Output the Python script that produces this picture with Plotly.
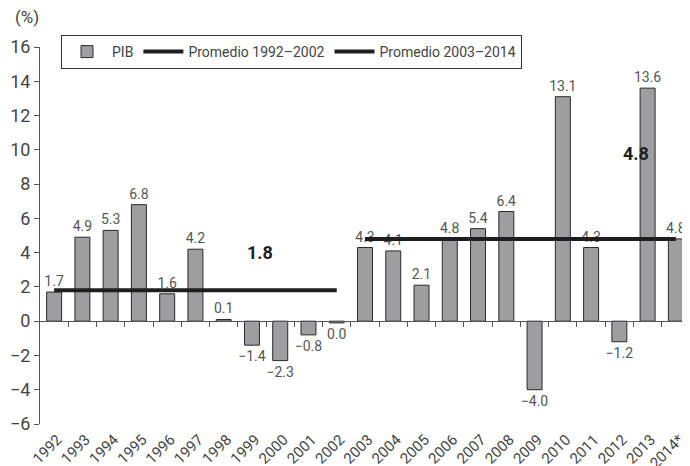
import plotly.graph_objects as go

years = ["1992", "1993", "1994", "1995", "1996", "1997", "1998", "1999", "2000", "2001",
         "2002", "2003", "2004", "2005", "2006", "2007", "2008", "2009", "2010", "2011",
         "2012", "2013", "2014*"]
pib = [1.7, 4.9, 5.3, 6.8, 1.6, 4.2, 0.1, -1.4, -2.3, -0.8,
       -0.1, 4.3, 4.1, 2.1, 4.8, 5.4, 6.4, -4.0, 13.1, 4.3,
       -1.2, 13.6, 4.8]
pib_labels = ["1.7", "4.9", "5.3", "6.8", "1.6", "4.2", "0.1", "−1.4", "−2.3", "−0.8",
              "0.0", "4.3", "4.1", "2.1", "4.8", "5.4", "6.4", "−4.0", "13.1", "4.3",
              "−1.2", "13.6", "4.8"]
avg1_name = "Promedio 1992–2002"
avg1_value = 1.8
avg1_span = ("1992", "2002")
avg2_name = "Promedio 2003–2014"
avg2_value = 4.8
avg2_span = ("2003", "2014*")
y_ticks = [-6, -4, -2, 0, 2, 4, 6, 8, 10, 12, 14, 16]

FONT = "Roboto, 'Liberation Sans', sans-serif"
TXT = "#444444"
idx = list(range(len(years)))

# page body has an 8px default margin; size the figure so the plot lands where the reference has it
W, H = 682, 458
ML, MT, MB = 32, 39, 42
PW, PH = W - ML, H - MT - MB
LABEL_OFFSET = 0.12  # rotated year labels sit slightly right of bar centre

fig = go.Figure()
fig.add_trace(go.Bar(
    x=idx, y=pib, name="PIB", width=0.53,
    marker=dict(color="#9e9ea1", line=dict(color="#2a2a2a", width=1)),
    text=pib_labels, textposition="outside", constraintext="none",
    textfont=dict(family=FONT, size=14, color="#555555"),
    cliponaxis=False,
))
i1a, i1b = years.index(avg1_span[0]), years.index(avg1_span[1])
i2a, i2b = years.index(avg2_span[0]), years.index(avg2_span[1])
fig.add_trace(go.Scatter(x=[i1a, i1b], y=[avg1_value, avg1_value], mode="lines",
                         name=avg1_name, line=dict(color="#1e1e1e", width=4)))
fig.add_trace(go.Scatter(x=[i2a, i2b], y=[avg2_value, avg2_value], mode="lines",
                         name=avg2_name, line=dict(color="#1e1e1e", width=4)))
# helper trace so the zero-line axis is rendered
fig.add_trace(go.Scatter(x=[0], y=[0], xaxis="x2", mode="markers", marker=dict(opacity=0),
                         showlegend=False, hoverinfo="skip"))

fig.add_annotation(x=7.3, y=4.0, xref="x", yref="y",
                   text="<b>%.1f</b>" % avg1_value, showarrow=False,
                   font=dict(family=FONT, size=18, color="#1e1e1e"))
fig.add_annotation(x=20.6, y=9.8, xref="x", yref="y",
                   text="<b>%.1f</b>" % avg2_value, showarrow=False,
                   font=dict(family=FONT, size=18, color="#1e1e1e"))
fig.add_annotation(x=-(ML - 5) / PW, y=1 + 30 / PH, xref="paper", yref="paper",
                   xanchor="left", yanchor="middle", text="(%)", showarrow=False,
                   font=dict(family=FONT, size=17, color=TXT))

ymin, ymax = y_ticks[0], y_ticks[-1]
fig.update_layout(
    width=W, height=H,
    margin=dict(l=ML, r=0, t=MT, b=MB),
    plot_bgcolor="white", paper_bgcolor="white",
    font=dict(family=FONT, color=TXT),
    showlegend=True,
    legend=dict(orientation="h", x=(61 - 40) / PW, y=1 + 12 / PH, xanchor="left", yanchor="top",
                bordercolor="#333333", borderwidth=1, bgcolor="white",
                font=dict(family=FONT, size=14, color=TXT), itemwidth=40,
                tracegroupgap=0),
    xaxis=dict(range=[-0.5, len(years) - 0.5], tickmode="array",
               tickvals=[i + LABEL_OFFSET for i in idx], ticktext=years,
               tickangle=-45, ticks="", showline=False, showgrid=False, zeroline=False,
               ticklabelstandoff=3, ticklabeloverflow="allow",
               tickfont=dict(family=FONT, size=15, color=TXT), automargin=False),
    xaxis2=dict(overlaying="x", anchor="free", position=(0 - ymin) / (ymax - ymin),
                range=[-0.5, len(years) - 0.5], side="bottom",
                tickmode="array", tickvals=[i + 0.5 for i in idx], showticklabels=False,
                ticks="outside", ticklen=5, tickcolor="#555555", showline=True,
                linecolor="#555555", linewidth=1, showgrid=False, zeroline=False),
    yaxis=dict(range=[ymin, ymax], tickmode="array", tickvals=y_ticks,
               ticks="outside", ticklen=5, tickcolor="#555555", showline=True,
               linecolor="#555555", linewidth=1, showgrid=False, zeroline=False,
               tickfont=dict(family=FONT, size=18, color=TXT), automargin=False),
    bargap=0.47,
)
fig.write_html("out.html")
